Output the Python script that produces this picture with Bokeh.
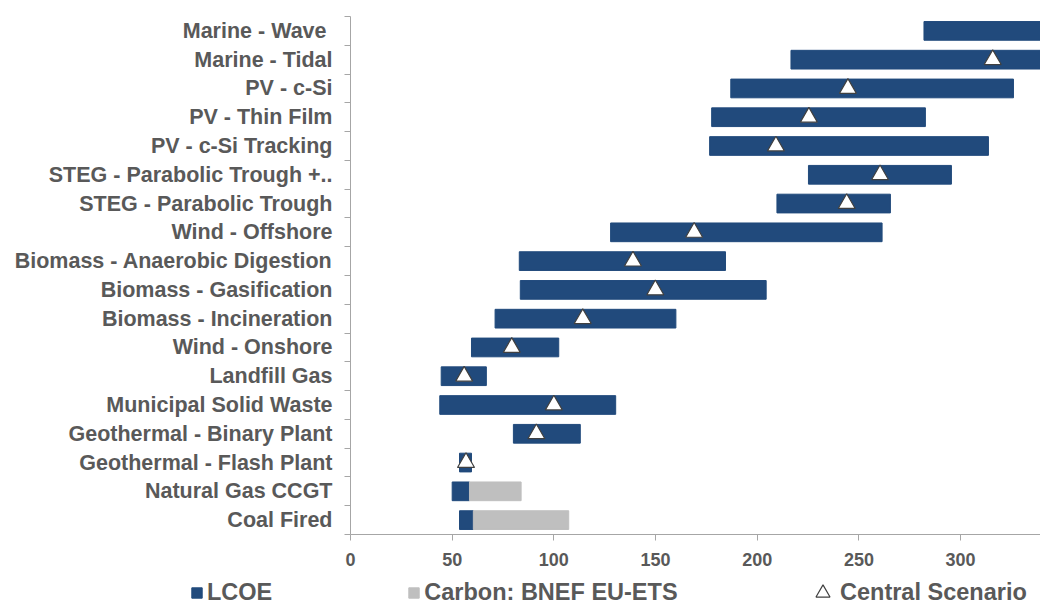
from bokeh.plotting import figure
from bokeh.models import (Range1d, LinearAxis, FixedTicker, Legend, LegendItem, ColumnDataSource)
from bokeh.embed import file_html
from bokeh.resources import INLINE

nan = float("nan")

# ---- data (top to bottom as shown) ----
technologies = [
    "Marine - Wave ", "Marine - Tidal", "PV - c-Si", "PV - Thin Film", "PV - c-Si Tracking",
    "STEG - Parabolic Trough +..", "STEG - Parabolic Trough", "Wind - Offshore",
    "Biomass - Anaerobic Digestion", "Biomass - Gasification", "Biomass - Incineration",
    "Wind - Onshore", "Landfill Gas", "Municipal Solid Waste", "Geothermal - Binary Plant",
    "Geothermal - Flash Plant", "Natural Gas CCGT", "Coal Fired",
]
lcoe_low = [282, 216.6, 187, 177.6, 176.6, 225.2, 209.7, 127.9, 83, 83.5, 71.1,
            59.5, 44.6, 43.9, 80.1, 53.6, 50, 53.6]
lcoe_high = [420, 400, 326, 282.7, 313.7, 295.5, 265.5, 261.4, 184.4, 204.4, 160,
             102.4, 66.8, 130.4, 113, 59.5, 58.5, 60.4]
central = [nan, 315.8, 244.6, 225.4, 209.2, 260.4, 244, 169, 138.9, 149.9, 114.2,
           79.3, 55.9, 100, 91.4, 56.8, nan, nan]
carbon_high = [nan] * 16 + [83.9, 107.3]

x_ticks = [0, 50, 100, 150, 200, 250, 300]
x_max = 339.3
legend_labels = ["LCOE", "Carbon: BNEF EU-ETS", "Central Scenario"]

BLUE = "#214a7c"
GRAY = "#bfbfbf"
TEXT = "#595959"
AXIS = "#a6a6a6"
TRI_LINE = "#404040"
FONT = "Liberation Sans"

n = len(technologies)
ypos = [n - i - 0.5 for i in range(n)]   # category slot centres, first item on top

bar_src = ColumnDataSource(dict(y=ypos, low=lcoe_low, high=lcoe_high))
c_idx = [i for i, v in enumerate(carbon_high) if v == v]
carbon_src = ColumnDataSource(dict(y=[ypos[i] for i in c_idx],
                                   low=[lcoe_high[i] for i in c_idx],
                                   high=[carbon_high[i] for i in c_idx]))
m_idx = [i for i, v in enumerate(central) if v == v]
central_src = ColumnDataSource(dict(y=[ypos[i] for i in m_idx],
                                    val=[central[i] for i in m_idx]))

p = figure(width=1040, height=575, output_backend="svg", toolbar_location=None,
           x_range=Range1d(0, x_max), y_range=Range1d(0, n),
           x_axis_location=None, y_axis_location=None,
           min_border_left=350, min_border_right=0, min_border_top=16, min_border_bottom=41)
p.outline_line_color = None
p.background_fill_color = "white"
for g in p.grid:
    g.visible = False

p.hbar(y="y", left="low", right="high", height=0.65, source=bar_src,
       fill_color=BLUE, line_color=BLUE)
p.hbar(y="y", left="low", right="high", height=0.65, source=carbon_src,
       fill_color=GRAY, line_color=GRAY)
p.scatter(x="val", y="y", source=central_src, marker="triangle", size=17,
          fill_color="white", line_color=TRI_LINE, line_width=1.2)

# boundary ticks + axis line for y
tick_axis = LinearAxis(ticker=FixedTicker(ticks=list(range(n + 1))),
                       axis_line_color=AXIS, major_tick_line_color=AXIS,
                       major_tick_in=0, major_tick_out=6, minor_tick_line_color=None,
                       major_label_text_font_size="1px", major_label_text_alpha=0,
                       major_label_standoff=0)
p.add_layout(tick_axis, "left")

cat_axis = LinearAxis(ticker=FixedTicker(ticks=ypos),
                      major_label_overrides={y: t for y, t in zip(ypos, technologies)},
                      axis_line_color=None, major_tick_line_color=None,
                      minor_tick_line_color=None,
                      major_tick_in=0, major_tick_out=0, major_label_standoff=12,
                      major_label_text_font=FONT, major_label_text_font_size="21.5px",
                      major_label_text_font_style="bold", major_label_text_color=TEXT)
p.add_layout(cat_axis, "left")

x_axis = LinearAxis(ticker=FixedTicker(ticks=x_ticks), axis_line_color=AXIS,
                    major_tick_line_color=AXIS, major_tick_in=0, major_tick_out=6,
                    minor_tick_line_color=None, major_label_standoff=12,
                    major_label_text_font=FONT, major_label_text_font_size="18px",
                    major_label_text_font_style="bold", major_label_text_color=TEXT)
p.add_layout(x_axis, "below")

# ---- legend strip (separate root so its frame is not aligned with the chart's) ----
lf = figure(width=1040, height=31, output_backend="svg", toolbar_location=None,
            x_range=Range1d(0, 1), y_range=Range1d(0, 1),
            x_axis_location=None, y_axis_location=None,
            min_border_left=0, min_border_right=0, min_border_top=0, min_border_bottom=0)
lf.outline_line_color = None
for g in lf.grid:
    g.visible = False
proxy = ColumnDataSource(dict(x=[0.5], y=[0.5], l=[0.4], r=[0.6]))
lr1 = lf.hbar(y="y", left="l", right="r", height=0.5, source=proxy,
              fill_color=BLUE, line_color=BLUE, visible=False)
lr2 = lf.hbar(y="y", left="l", right="r", height=0.5, source=proxy,
              fill_color=GRAY, line_color=GRAY, visible=False)
lr3 = lf.scatter(x="x", y="y", source=proxy, marker="triangle", size=14,
                 fill_color="white", line_color=TRI_LINE, line_width=1.2, visible=False)

common = dict(orientation="horizontal", label_text_font=FONT, label_text_font_size="23.5px",
              label_text_font_style="bold", label_text_color=TEXT,
              border_line_color=None, background_fill_alpha=0, padding=0, margin=0)
legend1 = Legend(items=[LegendItem(label=legend_labels[0], renderers=[lr1]),
                        LegendItem(label=legend_labels[1], renderers=[lr2])],
                 location=(190, 0), spacing=135, glyph_width=13, glyph_height=13,
                 label_standoff=4, **common)
legend2 = Legend(items=[LegendItem(label=legend_labels[2], renderers=[lr3])],
                 location=(805, -4), glyph_width=35, glyph_height=35,
                 label_standoff=0, **common)
lf.add_layout(legend1, "center")
lf.add_layout(legend2, "center")

open("out.html", "w").write(file_html([p, lf], INLINE))
